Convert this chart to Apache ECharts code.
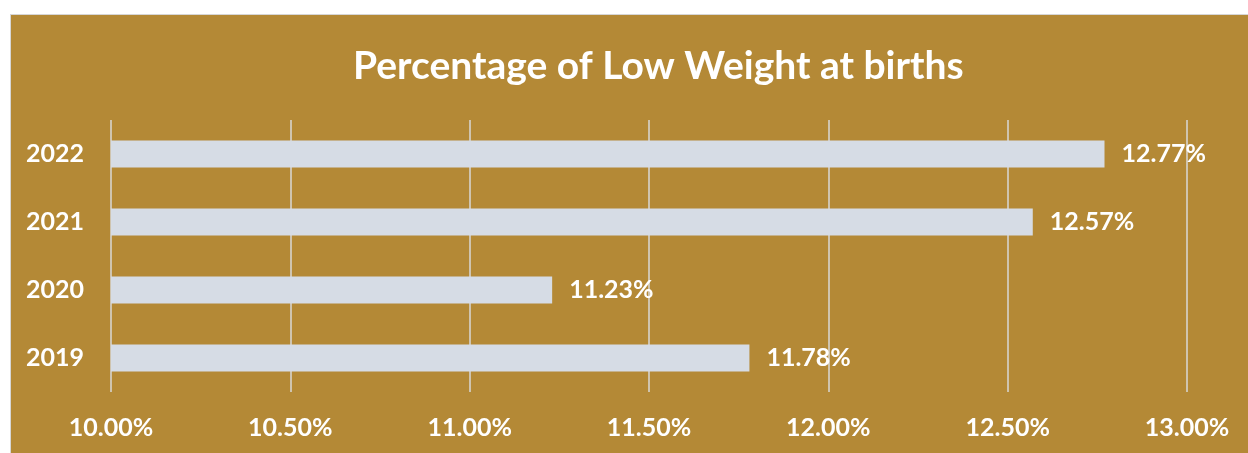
<!DOCTYPE html>
<html>
<head>
<meta charset="utf-8">
<script src="https://cdn.jsdelivr.net/npm/echarts@6/dist/echarts.min.js"></script>
<style>
html,body{margin:0;padding:0;background:#fff;}
#box{position:absolute;left:10px;top:14px;width:1237px;height:438px;background:#B48936;border-left:1px solid #D6D6D6;border-top:1px solid #D6D6D6;}
#chart{width:1237px;height:438px;}
</style>
</head>
<body>
<div id="box"><div id="chart"></div></div>
<script>
// data
var years = ['2019', '2020', '2021', '2022'];
var lowWeight = [11.78, 11.23, 12.57, 12.77];
var axisMin = 10, axisMax = 13, axisStep = 0.5;
var titleText = 'Percentage of Low Weight at births';

var font = 'Lato, "Open Sans", sans-serif';
var titleSize = 39;

// title is centred a bit right of the middle, work out its left edge
var ctx = document.createElement('canvas').getContext('2d');
ctx.font = 'bold ' + titleSize + 'px ' + font;
var titleLeft = Math.round(647.5 - ctx.measureText(titleText).width / 2);

var myChart = echarts.init(document.getElementById('chart'));

var option = {
	backgroundColor: 'transparent',
	title: {
		text: titleText,
		left: titleLeft,
		top: 32,
		padding: 0,
		textStyle: {color: '#fff', fontSize: titleSize, fontWeight: 'bold', fontFamily: font}
	},
	grid: {left: 100, right: 61, top: 105, bottom: 61},
	xAxis: {
		type: 'value',
		min: axisMin,
		max: axisMax,
		interval: axisStep,
		axisLine: {show: false},
		axisTick: {show: false},
		splitLine: {lineStyle: {color: '#D9D9D9', width: 1.5}},
		axisLabel: {
			color: '#fff', fontSize: 25, fontWeight: 'bold', fontFamily: font, margin: 23,
			formatter: function(v){ return v.toFixed(2) + '%'; }
		}
	},
	yAxis: {
		type: 'category',
		data: years,
		axisLine: {show: false},
		axisTick: {show: false},
		axisLabel: {color: '#fff', fontSize: 25, fontWeight: 'bold', fontFamily: font, margin: 27}
	},
	series: [{
		type: 'bar',
		data: lowWeight,
		barCategoryGap: '60%',
		itemStyle: {color: '#D6DCE5'},
		label: {
			show: true,
			position: 'right',
			distance: 17,
			color: '#fff', fontSize: 25, fontWeight: 'bold', fontFamily: font,
			formatter: function(p){ return p.value.toFixed(2) + '%'; }
		}
	}]
};
myChart.setOption(option);
</script>
</body>
</html>
